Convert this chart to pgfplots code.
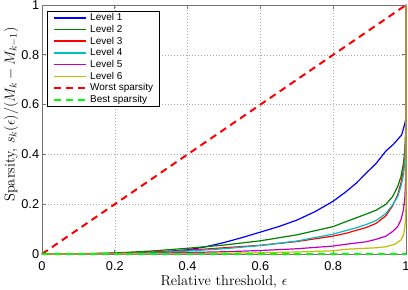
\documentclass[border=0pt]{standalone}
\usepackage{fontspec}
\newfontfamily\arial{Liberation Sans}
\usepackage{pgfplots}
\pgfplotsset{compat=1.18}
\definecolor{mblue}{rgb}{0,0,1}
\definecolor{mgreen}{rgb}{0,0.5,0}
\definecolor{mred}{rgb}{1,0,0}
\definecolor{mcyan}{rgb}{0,0.75,0.75}
\definecolor{mmag}{rgb}{0.75,0,0.75}
\definecolor{myel}{rgb}{0.75,0.75,0}
\definecolor{bgreen}{rgb}{0,1,0}
\definecolor{framegray}{rgb}{0.45,0.45,0.45}
\newcommand\ls{\rule[-2.1bp]{0pt}{9.3bp}}
\begin{document}
\begin{tikzpicture}
\begin{axis}[
  scale only axis, width=364bp, height=249bp,
  xmin=0, xmax=1, ymin=0, ymax=1,
  clip=false,
  xtick={0,0.2,0.4,0.6,0.8,1}, ytick={0,0.2,0.4,0.6,0.8,1},
  grid=major,
  major grid style={draw=gray!70, line width=0.5bp, dash pattern=on 0.7bp off 2.3bp},
  axis line style={draw=framegray, line width=0.8bp},
  tick align=inside, major tick length=4bp,
  tick style={draw=framegray, line width=0.6bp},
  /pgf/number format/assume math mode=true,
  ticklabel style={font=\arial\fontsize{12.8}{15}\selectfont},
  xticklabel style={anchor=base, yshift=-16.7bp, inner sep=0pt},
  yticklabel style={anchor=east, xshift=-2.7bp, inner sep=0pt},
  xlabel={Relative threshold, $\epsilon$},
  ylabel={Sparsity, $s_k(\epsilon)/(M_k - M_{k-1})$},
  xlabel style={at={(axis description cs:0.5,-0.1285)}, anchor=base, font=\fontsize{14.5}{17}\selectfont},
  ylabel style={at={(axis description cs:-0.0852,0.56)}, anchor=center, font=\fontsize{14.5}{17}\selectfont},
  legend cell align=left,
  legend image code/.code={\draw[#1] (0bp,0bp) -- (32bp,0bp); \path (34bp,0bp);},
  legend style={at={(axis description cs:0.0146,0.977)}, anchor=north west,
    font=\arial\fontsize{10}{12}\selectfont,
    draw, fill=white,
    inner xsep=5.5bp, inner ysep=1bp,
    nodes={inner xsep=1bp, inner ysep=1.5bp}},
]
\addlegendimage{draw=mblue, line width=1.6bp}
\addlegendentry{\ls Level 1}
\addlegendimage{draw=mgreen, line width=1.6bp}
\addlegendentry{\ls Level 2}
\addlegendimage{draw=mred, line width=1.6bp}
\addlegendentry{\ls Level 3}
\addlegendimage{draw=mcyan, line width=1.6bp}
\addlegendentry{\ls Level 4}
\addlegendimage{draw=mmag, line width=1.6bp}
\addlegendentry{\ls Level 5}
\addlegendimage{draw=myel, line width=1.6bp}
\addlegendentry{\ls Level 6}
\addlegendimage{draw=mred, line width=2.2bp, dash pattern=on 7bp off 5bp}
\addlegendentry{\ls Worst sparsity}
\addlegendimage{draw=bgreen, line width=2.2bp, dash pattern=on 7bp off 5bp}
\addlegendentry{\ls Best sparsity}
\addplot[forget plot, draw=mblue, line width=1.2bp] coordinates {
(0,0) (0.1,0.0005) (0.2,0.002) (0.3,0.007) (0.35,0.011) (0.4,0.017) (0.45,0.029) (0.5,0.046) (0.55,0.066) (0.6,0.088) (0.65,0.11) (0.7,0.136) (0.75,0.17) (0.8,0.212) (0.835,0.25) (0.863,0.284) (0.89,0.324) (0.918,0.364) (0.945,0.414) (0.965,0.44) (0.988,0.478) (0.997,0.525) (1,0.55) (1,1)};
\addplot[forget plot, draw=mgreen, line width=1.2bp] coordinates {
(0,0) (0.1,0.001) (0.2,0.004) (0.3,0.012) (0.4,0.023) (0.5,0.036) (0.6,0.053) (0.7,0.077) (0.8,0.11) (0.835,0.13) (0.863,0.145) (0.89,0.16) (0.918,0.176) (0.945,0.2) (0.963,0.23) (0.977,0.27) (0.986,0.31) (0.993,0.364) (0.997,0.418) (1,0.55) (1,1)};
\addplot[forget plot, draw=mred, line width=1.2bp] coordinates {
(0,0) (0.1,0.0005) (0.2,0.003) (0.3,0.007) (0.4,0.015) (0.5,0.025) (0.6,0.035) (0.7,0.05) (0.8,0.072) (0.835,0.083) (0.863,0.095) (0.89,0.106) (0.918,0.123) (0.945,0.154) (0.963,0.193) (0.977,0.237) (0.986,0.284) (0.993,0.337) (0.997,0.39) (1,0.5) (1,1)};
\addplot[forget plot, draw=mcyan, line width=1.2bp] coordinates {
(0,0) (0.1,0.0005) (0.2,0.002) (0.3,0.005) (0.4,0.012) (0.5,0.021) (0.6,0.034) (0.7,0.052) (0.8,0.08) (0.835,0.094) (0.863,0.105) (0.89,0.118) (0.918,0.134) (0.945,0.163) (0.963,0.197) (0.977,0.23) (0.986,0.27) (0.993,0.317) (0.997,0.377) (1,0.5) (1,1)};
\addplot[forget plot, draw=mmag, line width=1.2bp] coordinates {
(0,0) (0.2,0.001) (0.3,0.003) (0.4,0.006) (0.5,0.009) (0.6,0.014) (0.7,0.021) (0.8,0.032) (0.835,0.039) (0.89,0.049) (0.918,0.059) (0.945,0.072) (0.963,0.09) (0.977,0.11) (0.986,0.137) (0.993,0.177) (0.997,0.23) (0.999,0.31) (1,0.4) (1,1)};
\addplot[forget plot, draw=myel, line width=1.2bp] coordinates {
(0,0) (0.2,0.0005) (0.4,0.002) (0.5,0.003) (0.6,0.005) (0.7,0.008) (0.8,0.013) (0.835,0.019) (0.89,0.023) (0.918,0.025) (0.945,0.029) (0.97,0.04) (0.986,0.056) (0.993,0.076) (0.997,0.11) (0.999,0.15) (1,0.2) (1,1)};
\addplot[forget plot, draw=mred, line width=2bp, dash pattern=on 7bp off 5bp] coordinates {(0,0) (1,1)};
\addplot[forget plot, draw=bgreen, line width=2bp, dash pattern=on 7bp off 5bp] coordinates {(0,0) (1,0)};
\end{axis}
\pgfresetboundingbox
\path (current axis.south west) ++(-42bp,-36bp) rectangle ([shift={(2bp,5bp)}]current axis.north east);
\end{tikzpicture}
\end{document}
